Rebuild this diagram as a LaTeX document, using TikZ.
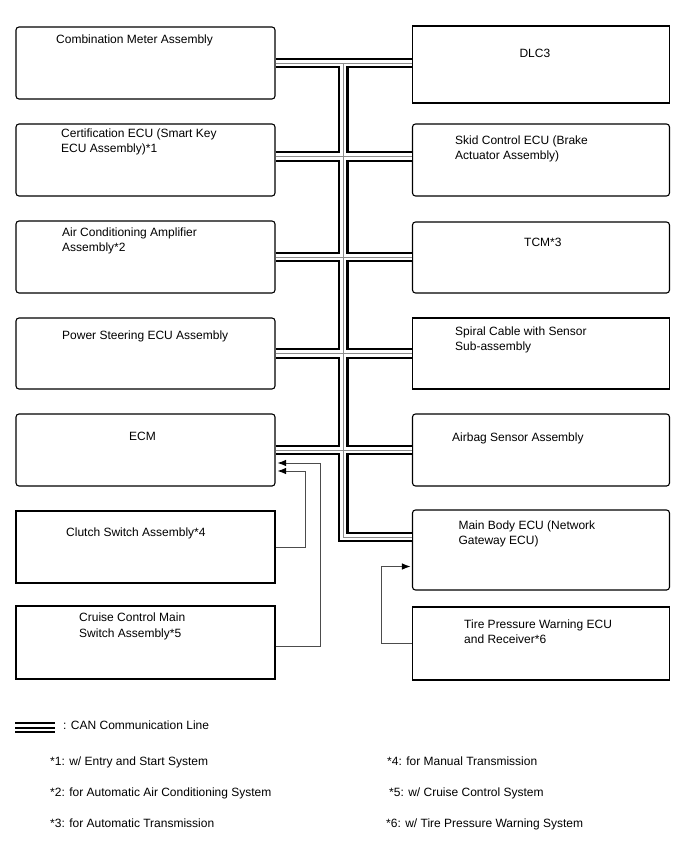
\documentclass[tikz,border=0pt]{standalone}
\usepackage{fontspec}
\setmainfont{Liberation Sans}
\usetikzlibrary{arrows.meta,calc}
\newcommand\twoline[2]{\vtop{\hbox{#1}\hbox{#2}}}
\begin{document}
\begin{tikzpicture}[x=1pt,y=-1pt,
  font=\fontsize{12}{15.5}\selectfont,
  boxbase/.style={draw=black,line width=1.1pt,inner sep=0pt,fill=white},
  lbox/.style={boxbase,minimum width=259pt},
  rbox/.style={boxbase,minimum width=257pt},
  rnd/.style={rounded corners=3pt},
  lbl/.style={anchor=base west,inner sep=0pt},
  can/.style={draw=black,line width=2.2pt,double=white,double distance=6.2pt,line join=miter,
    postaction={draw=black!45,line width=0.8pt}},
  sig/.style={draw=black!70,line width=0.9pt,-{Latex[length=8.5pt,width=6.5pt,color=black]}}]
\useasboundingbox (0,0) rectangle (688,852);

% left boxes
\node[lbox,rnd,minimum height=72pt] (cm)   at (145.5,63)    {};
\node[lbox,rnd,minimum height=72pt] (cert) at (145.5,160)   {};
\node[lbox,rnd,minimum height=72pt] (ac)   at (145.5,257)   {};
\node[lbox,rnd,minimum height=71pt] (ps)   at (145.5,353.5) {};
\node[lbox,rnd,minimum height=72pt] (ecm)  at (145.5,450)   {};
\node[lbox,minimum height=72pt]     (cl)   at (145.5,547)   {};
\node[lbox,minimum height=73pt]     (cr)   at (145.5,642.5) {};
% right boxes
\node[rbox,minimum height=77pt]     (dlc)  at (541,64.5)  {};
\node[rbox,rnd,minimum height=72pt] (skid) at (541,160)   {};
\node[rbox,rnd,minimum height=71pt] (tcm)  at (541,257.5) {};
\node[rbox,minimum height=71pt]     (sp)   at (541,353.5) {};
\node[rbox,rnd,minimum height=72pt] (ab)   at (541,450)   {};
\node[rbox,rnd,minimum height=80pt] (mb)   at (541,550)   {};
\node[rbox,minimum height=73pt]     (tp)   at (541,643.5) {};

% labels
\node[lbl] (t1) at (56,43.3)  {Combination Meter Assembly};
\node[lbl] (t2) at (61,137)   {\twoline{Certification ECU (Smart Key}{ECU Assembly)*1}};
\node[lbl] (t3) at (62,236)   {\twoline{Air Conditioning Amplifier}{Assembly*2}};
\node[lbl] (t4) at (62,339)   {Power Steering ECU Assembly};
\node[lbl] (t5) at (129,440.7){ECM};
\node[lbl] (t6) at (66,536)   {Clutch Switch Assembly*4};
\node[lbl] (t7) at (79,621.7) {\twoline{Cruise Control Main}{Switch Assembly*5}};
\node[lbl] (r1) at (519.3,57.7) {DLC3};
\node[lbl] (r2) at (455,144)  {\twoline{Skid Control ECU (Brake}{Actuator Assembly)}};
\node[lbl] (r3) at (524,246.7){TCM*3};
\node[lbl] (r4) at (455,335)  {\twoline{Spiral Cable with Sensor}{Sub-assembly}};
\node[lbl] (r5) at (452,441)  {Airbag Sensor Assembly};
\node[lbl] (r6) at (458.3,529.3) {\twoline{Main Body ECU (Network}{Gateway ECU)}};
\node[lbl] (r7) at (464,628.3){\twoline{Tire Pressure Warning ECU}{and Receiver*6}};

% CAN bus
\coordinate (bt) at (343.2,63);
\coordinate (bb) at (343.2,537);
\coordinate (c2) at ($(cert.east)+(0,-3.5)$);
\draw[can] (cm.east) -- (cm.east -| dlc.west)
  (c2) -- (c2 -| skid.west)
  (ac.east) -- (ac.east -| tcm.west)
  (ps.east) -- (ps.east -| sp.west)
  (ecm.east) -- (ecm.east -| ab.west)
  (bt) -- (bb) -- (bb -| mb.west);

% signal lines
\draw[sig,shorten >=2pt] (cl.east) -- (305,547) -- (305,471) -- ($(ecm.east)+(0,21)$);
\draw[sig,shorten >=2pt] ($(cr.east)+(0,3.5)$) -- (320,646) -- (320,463) -- ($(ecm.east)+(0,13)$);
\draw[sig,shorten >=1.5pt] (tp.west) -- (381,643.5) -- (381,566.5) -- ($(mb.west)+(0,16.5)$);

% legend
\draw[line width=2pt] (15,722.7) -- (55,722.7) (15,727.5) -- (55,727.5) (15,732.3) -- (55,732.3);
\node[lbl] (lg) at (63,729) {: CAN Communication Line};
\node[lbl] (f1) at (50,765)  {*1: w/ Entry and Start System};
\node[lbl] (f2) at (50,796)  {*2: for Automatic Air Conditioning System};
\node[lbl] (f3) at (50,827)  {*3: for Automatic Transmission};
\node[lbl] (f4) at (387,765) {*4: for Manual Transmission};
\node[lbl] (f5) at (389,796) {*5: w/ Cruise Control System};
\node[lbl] (f6) at (386,827) {*6: w/ Tire Pressure Warning System};
\end{tikzpicture}
\end{document}
